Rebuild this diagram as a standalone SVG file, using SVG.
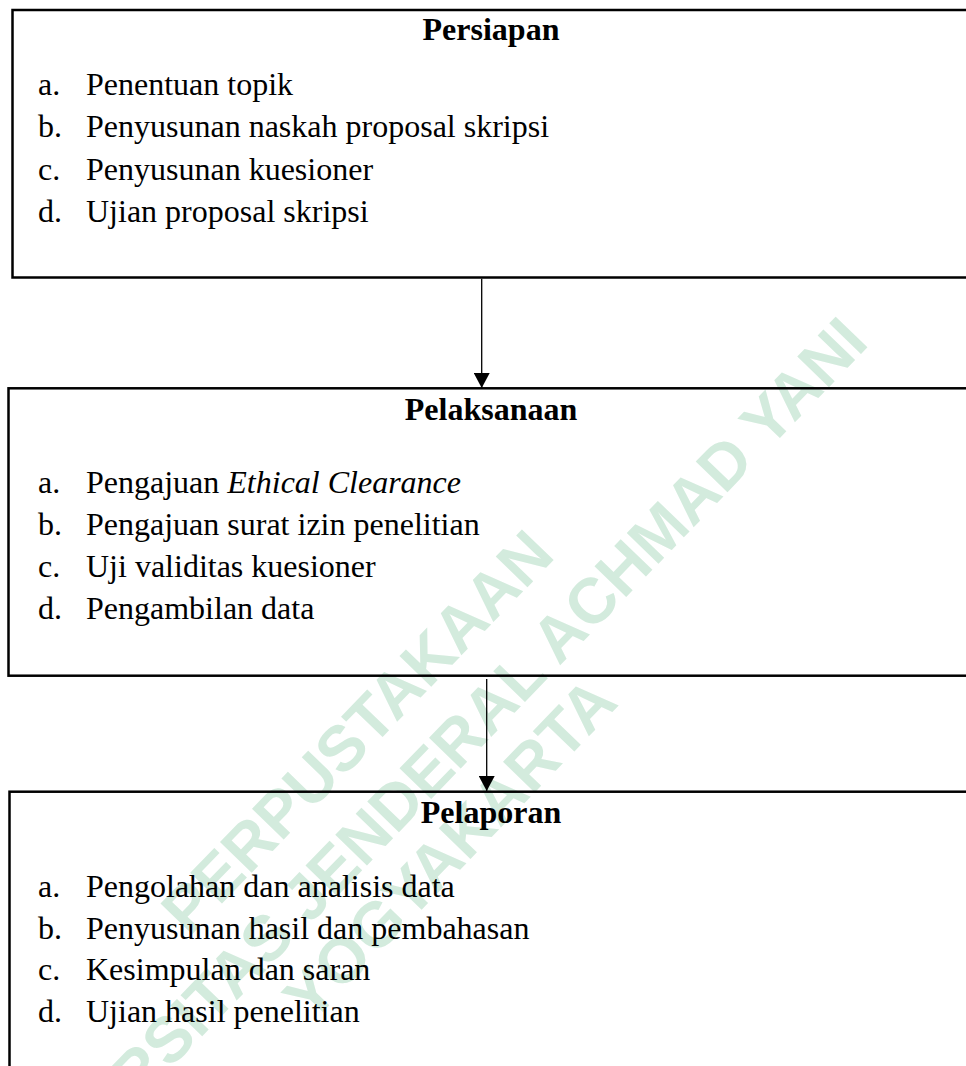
<svg xmlns="http://www.w3.org/2000/svg" width="966" height="1066" viewBox="0 0 966 1066">
<style>
.box{fill:none;stroke:#000;stroke-width:2.5}
.title{font-family:"Liberation Serif",serif;font-size:32px;font-weight:bold;text-anchor:middle;fill:#000}
.item{font-family:"Liberation Serif",serif;font-size:32px;fill:#000}
.wm{font-family:"Liberation Sans",Arial,sans-serif;font-size:64px;font-weight:bold;fill:#d3ebdd;text-anchor:middle}
.conn{stroke:#000;stroke-width:1.3;fill:none}
</style>
<defs>
<marker id="arr" markerWidth="16" markerHeight="16" refX="15" refY="8" orient="auto" markerUnits="userSpaceOnUse">
<path d="M0,0 L15,8 L0,16 Z" fill="#000"/>
</marker>
</defs>
<rect width="966" height="1066" fill="#fff"/>
<g id="watermark" transform="translate(436,794) rotate(-46)">
<text class="wm" x="-10" y="-78">PERPUSTAKAAN</text>
<text class="wm" x="0" y="0">UNIVERSITAS JENDERAL ACHMAD YANI</text>
<text class="wm" x="-30" y="70">YOGYAKARTA</text>
</g>
<g id="persiapan">
<rect class="box" x="12.5" y="10" width="1000" height="267.5"/>
<text class="title" x="491" y="40">Persiapan</text>
<text class="item" x="38" y="95">a.</text><text class="item" x="86" y="95">Penentuan topik</text>
<text class="item" x="38" y="137.3">b.</text><text class="item" x="86" y="137.3">Penyusunan naskah proposal skripsi</text>
<text class="item" x="38" y="179.6">c.</text><text class="item" x="86" y="179.6">Penyusunan kuesioner</text>
<text class="item" x="38" y="222">d.</text><text class="item" x="86" y="222">Ujian proposal skripsi</text>
</g>
<g id="pelaksanaan">
<rect class="box" x="8.5" y="388.3" width="1000" height="287.4"/>
<text class="title" x="491" y="420">Pelaksanaan</text>
<text class="item" x="38" y="493">a.</text><text class="item" x="86" y="493">Pengajuan <tspan font-style="italic">Ethical Clearance</tspan></text>
<text class="item" x="38" y="535">b.</text><text class="item" x="86" y="535">Pengajuan surat izin penelitian</text>
<text class="item" x="38" y="577">c.</text><text class="item" x="86" y="577">Uji validitas kuesioner</text>
<text class="item" x="38" y="618.5">d.</text><text class="item" x="86" y="618.5">Pengambilan data</text>
</g>
<g id="pelaporan">
<rect class="box" x="9.5" y="791.7" width="1000" height="400"/>
<text class="title" x="491" y="822.7">Pelaporan</text>
<text class="item" x="38" y="897">a.</text><text class="item" x="86" y="897">Pengolahan dan analisis data</text>
<text class="item" x="38" y="938.5">b.</text><text class="item" x="86" y="938.5">Penyusunan hasil dan pembahasan</text>
<text class="item" x="38" y="980">c.</text><text class="item" x="86" y="980">Kesimpulan dan saran</text>
<text class="item" x="38" y="1022">d.</text><text class="item" x="86" y="1022">Ujian hasil penelitian</text>
</g>
<g id="connectors">
<line class="conn" x1="481.7" y1="278.8" x2="481.7" y2="388" marker-end="url(#arr)"/>
<line class="conn" x1="486.7" y1="679" x2="486.7" y2="791" marker-end="url(#arr)"/>
</g>
</svg>
